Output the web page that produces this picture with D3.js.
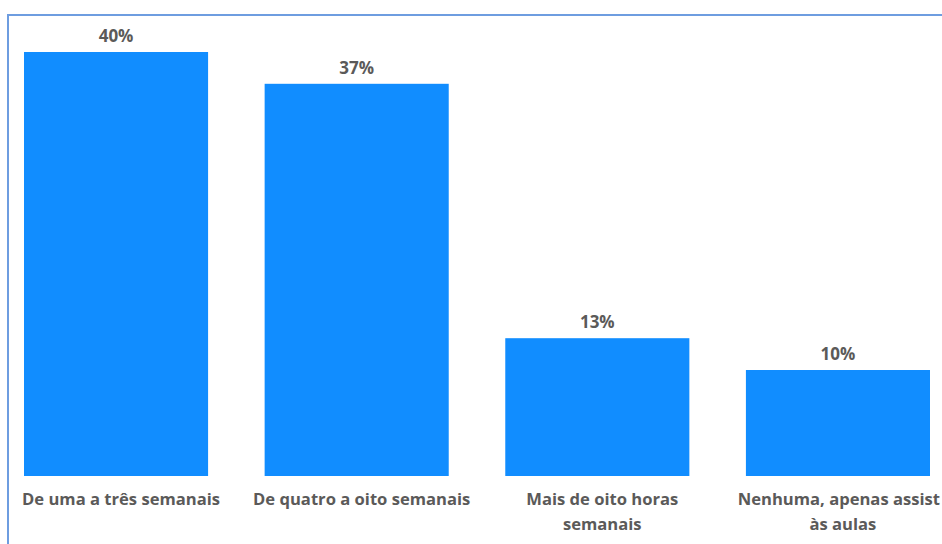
<!DOCTYPE html>
<html>
<head>
<meta charset="utf-8">
<script src="https://cdn.jsdelivr.net/npm/d3@7"></script>
<style>
  html, body { margin: 0; padding: 0; background: #ffffff; overflow: hidden; }
  svg { display: block; }
  text { font-family: "Open Sans", "Noto Sans", sans-serif; font-weight: 700; fill: #5b5a59; }
</style>
</head>
<body>
<script>
// Weekly hours of study outside class
const categories = [
  "De uma a três semanais",
  "De quatro a oito semanais",
  "Mais de oito horas semanais",
  "Nenhuma, apenas assist às aulas"
];
// Category labels split into display lines
const categoryLines = [
  ["De uma a três semanais"],
  ["De quatro a oito semanais"],
  ["Mais de oito horas", "semanais"],
  ["Nenhuma, apenas assist", "às aulas"]
];
const values = [40, 37, 13, 10];

const W = 942, H = 544;
const svg = d3.select("body").append("svg").attr("width", W).attr("height", H);

// Frame around the visual
svg.append("rect")
  .attr("x", 8).attr("y", 15)
  .attr("width", 1000).attr("height", 1000)
  .attr("fill", "none")
  .attr("stroke", "#6e9de0")
  .attr("stroke-width", 2);

const x = d3.scaleBand()
  .domain(categories)
  .range([24, 930])
  .paddingInner(0.235)
  .paddingOuter(0);

const y = d3.scaleLinear()
  .domain([0, 40])
  .range([476, 52]);

const g = svg.append("g");

g.selectAll("rect.bar")
  .data(values)
  .join("rect")
  .attr("class", "bar")
  .attr("x", (d, i) => x(categories[i]))
  .attr("width", x.bandwidth())
  .attr("y", d => y(d))
  .attr("height", d => y(0) - y(d))
  .attr("fill", "#118dff");

// Value labels above bars
g.selectAll("text.val")
  .data(values)
  .join("text")
  .attr("class", "val")
  .attr("x", (d, i) => x(categories[i]) + x.bandwidth() / 2)
  .attr("y", d => y(d) - 10)
  .attr("text-anchor", "middle")
  .style("font-size", "17px")
  .text(d => d + "%");

// Category axis labels, one tspan per line; lines are kept inside the right edge
const cat = g.selectAll("text.cat")
  .data(categories)
  .join("text")
  .attr("class", "cat")
  .attr("text-anchor", "middle")
  .attr("y", 505)
  .style("font-size", "16.6px");

cat.each(function(d, i) {
  const t = d3.select(this);
  const cx = x(d) + x.bandwidth() / 2 + 5;
  categoryLines[i].forEach((line, j) => {
    const ts = t.append("tspan")
      .attr("x", cx)
      .attr("dy", j === 0 ? 0 : 25)
      .text(line);
    const half = ts.node().getComputedTextLength() / 2;
    if (cx + half > W - 2) ts.attr("x", W - 2 - half);
  });
});
</script>
</body>
</html>
